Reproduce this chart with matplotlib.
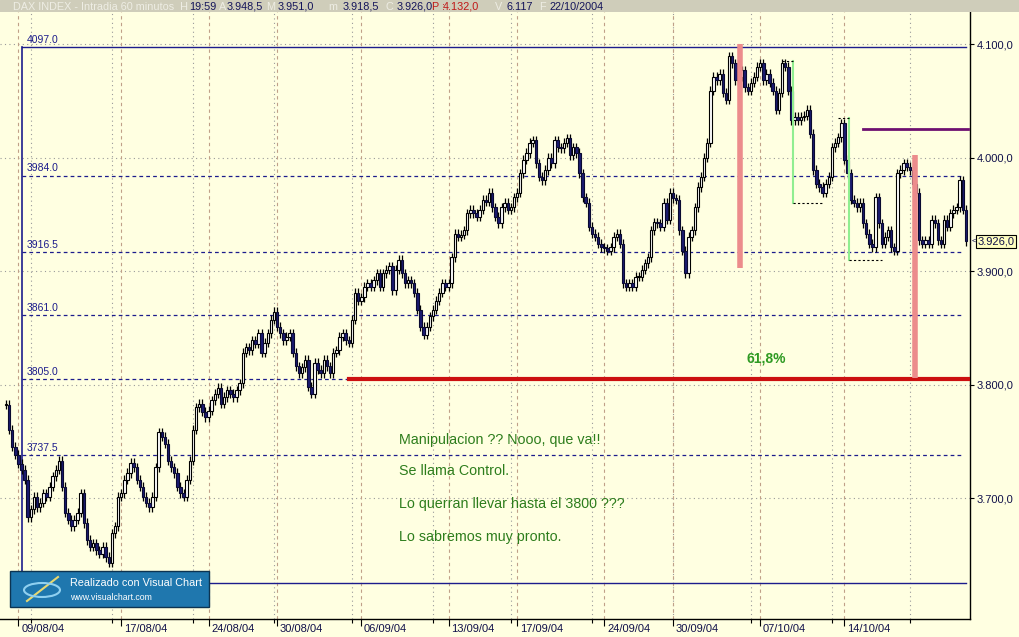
import numpy as np
import matplotlib.pyplot as plt
from matplotlib.patches import Rectangle, Ellipse
from matplotlib.lines import Line2D

plt.rcParams['font.family'] = ['Liberation Sans', 'DejaVu Sans']

# DAX hourly closes (06/08/04 .. 22/10/04)
closes = [
    3782, 3760, 3745, 3738, 3730, 3725, 3716, 3683, 3690, 3701, 3692, 3696, 3704, 3701, 3710, 3719,
    3725, 3733, 3710, 3687, 3681, 3675, 3681, 3687, 3704, 3678, 3663, 3657, 3660, 3654, 3651, 3657,
    3648, 3643, 3669, 3675, 3701, 3704, 3716, 3722, 3731, 3727, 3716, 3710, 3701, 3696, 3692, 3701,
    3727, 3758, 3754, 3748, 3733, 3727, 3722, 3710, 3704, 3701, 3716, 3733, 3760, 3780, 3783, 3776,
    3771, 3777, 3786, 3792, 3797, 3783, 3789, 3795, 3792, 3789, 3795, 3801, 3828, 3833, 3830, 3839,
    3836, 3845, 3828, 3837, 3845, 3857, 3864, 3851, 3845, 3839, 3842, 3845, 3828, 3816, 3810, 3815,
    3822, 3798, 3792, 3819, 3813, 3810, 3822, 3816, 3810, 3828, 3830, 3842, 3845, 3839, 3837, 3857,
    3881, 3874, 3877, 3886, 3889, 3886, 3892, 3898, 3886, 3898, 3901, 3904, 3883, 3901, 3910, 3898,
    3889, 3892, 3889, 3881, 3866, 3851, 3844, 3851, 3860, 3866, 3874, 3881, 3889, 3886, 3889, 3912,
    3933, 3930, 3932, 3936, 3951, 3954, 3951, 3948, 3954, 3963, 3961, 3969, 3956, 3948, 3942, 3956,
    3960, 3954, 3956, 3965, 3969, 3986, 3998, 4004, 4013, 4015, 3995, 3983, 3980, 3989, 4000, 3995,
    4015, 4009, 4008, 4013, 4017, 4002, 4009, 4004, 3986, 3965, 3960, 3939, 3933, 3930, 3924, 3921,
    3920, 3918, 3921, 3930, 3933, 3924, 3889, 3886, 3889, 3886, 3895, 3895, 3901, 3907, 3912, 3936,
    3943, 3942, 3939, 3960, 3945, 3969, 3964, 3963, 3936, 3918, 3898, 3930, 3936, 3956, 3974, 3983,
    4000, 4013, 4059, 4071, 4068, 4074, 4057, 4051, 4089, 4083, 4068, 4071, 4077, 4062, 4059, 4066,
    4071, 4080, 4083, 4068, 4074, 4066, 4059, 4042, 4057, 4083, 4080, 4059, 4033, 4036, 4033, 4036,
    4037, 4042, 4021, 3989, 3977, 3974, 3969, 3977, 3983, 4009, 4013, 4018, 4030, 3998, 3986, 3963,
    3960, 3956, 3960, 3942, 3933, 3924, 3921, 3965, 3942, 3924, 3930, 3936, 3921, 3918, 3986, 3989,
    3995, 3992, 3989, 3977, 3969, 3927, 3924, 3927, 3924, 3945, 3942, 3927, 3924, 3945, 3939, 3951,
    3954, 3956, 3980, 3954, 3926,
]

date_labels = ['09/08/04', '17/08/04', '24/08/04', '30/08/04', '06/09/04', '13/09/04',
               '17/09/04', '24/09/04', '30/09/04', '07/10/04', '14/10/04']
date_idx = [4, 37, 65, 87, 114, 142, 164, 192, 214, 242, 269]
minor_idx = [8, 34, 60, 86, 111, 137, 162, 188, 214, 239, 265, 290]

price_ticks = [3700, 3800, 3900, 4000, 4100]
fib_top = 4097.0
fib_low = 3625.0
fib_levels = [3984.0, 3916.5, 3861.0, 3805.0, 3737.5]
fib_start, fib_end = 5, 308

# marks drawn by hand on the original chart
red_level, red_start = 3805, 110
pink_bars = [(235.5, 3903, 4100), (291.6, 3806, 4002)]
purple_level, purple_span = 4025, (275, 308.5)
green_legs = [(252.5, 4085, 3960, 249, 262), (270.4, 4035, 3910, 267, 281)]

notes = ['Manipulacion ?? Nooo, que va!!', 'Se llama Control.',
         'Lo querran llevar hasta el 3800 ???', 'Lo sabremos muy pronto.']
note_prices = [3751, 3724, 3695, 3666]
last_price = 3926.0

header = [('DAX INDEX - Intradia 60 minutos  H', 13, 'light'), ('19:59', 189, 'val'),
          ('A', 219, 'light'), ('3.948,5', 227, 'val'), ('M', 266, 'light'),
          ('3.951,0', 278, 'val'), ('m', 328, 'light'), ('3.918,5', 343, 'val'),
          ('C', 386, 'light'), ('3.926,0', 397, 'val'), ('P :', 432, 'red'),
          ('4.132,0', 443, 'red'), ('V', 495, 'light'), ('6.117', 507, 'val'),
          ('F', 539, 'light'), ('22/10/2004', 550, 'val')]

BG = '#FFFFE1'
NAVY = '#1c1c8c'
W, H = 1020, 637


def euro(v):
    return f'{v:,.1f}'.replace(',', 'X').replace('.', ',').replace('X', '.')


fig = plt.figure(figsize=(W / 100, H / 100), dpi=100, facecolor=BG)
ax = fig.add_axes([0, 18 / H, 970 / W, 607 / H], facecolor=BG)
ax.set_xlim(-1.9, 309.3)
ax.set_ylim(3593.4, 4128.2)

# grid
for p in price_ticks:
    ax.axhline(p, color='#9a9a9a', lw=0.8, ls=(0, (1, 3)), zorder=1)
for i in minor_idx:
    ax.axvline(i, color='#9a9a9a', lw=0.8, ls=(0, (1, 3)), zorder=1)
for i in date_idx:
    ax.axvline(i, color='#c0a088', lw=0.8, ls=(0, (3, 3)), zorder=1)

# fibonacci frame
ax.plot([fib_start, fib_end], [fib_top, fib_top], color=NAVY, lw=1, zorder=2)
ax.plot([fib_start, fib_end], [fib_low, fib_low], color=NAVY, lw=1, zorder=2)
ax.plot([fib_start, fib_start], [fib_low, fib_top], color=NAVY, lw=1.2, zorder=2)
ax.text(6.8, fib_top + 2, f'{fib_top:.1f}', color=NAVY, fontsize=7.5, va='bottom')
for lv in fib_levels:
    ax.plot([fib_start, fib_end - 1], [lv, lv], color=NAVY, lw=0.9, ls=(0, (3, 2.5)), zorder=2)
    ax.text(6.8, lv + 2, f'{lv:.1f}', color=NAVY, fontsize=7.5, va='bottom')

# candles
c = np.array(closes, float)
o = np.r_[c[0], c[:-1]]
x = np.arange(len(c))
up = c >= o
wick = 4.0
ax.vlines(x, np.minimum(o, c) - wick, np.maximum(o, c) + wick, color='black', lw=0.9, zorder=3)
body = np.maximum(np.abs(c - o), 0.9)
base = np.minimum(o, c)
ax.bar(x[up], body[up], bottom=base[up], width=0.8, color='white', edgecolor='black', lw=0.8, zorder=4)
ax.bar(x[~up], body[~up], bottom=base[~up], width=0.8, color='#1a1a70', edgecolor='#0a0a30', lw=0.8, zorder=4)

# hand drawn marks
ax.plot([red_start, fib_end + 0.5], [red_level, red_level], color='#cc1010', lw=3, zorder=5)
for xi, y0, y1 in pink_bars:
    ax.plot([xi, xi], [y0, y1], color='#ec8c8c', lw=4, solid_capstyle='butt', zorder=6)
ax.plot(purple_span, [purple_level, purple_level], color='#6e1070', lw=2, zorder=5)
for xi, ytop, ybot, xl, xr in green_legs:
    ax.plot([xi, xi], [ytop, ybot], color='#90ee90', lw=1.5, zorder=6)
    ax.plot([xl, xi], [ytop, ytop], color='black', lw=0.8, ls=(0, (2, 2)), zorder=6)
    ax.plot([xi, xr], [ybot, ybot], color='black', lw=0.8, ls=(0, (2, 2)), zorder=6)

ax.text(237.7, 3823, '61,8%', color='#2e9a22', fontsize=10, fontweight='bold', va='center')
for txt, p in zip(notes, note_prices):
    ax.text(126, p, txt, color='#2d7d1c', fontsize=10.3, va='center')

# axes / ticks
for s in ['left', 'top']:
    ax.spines[s].set_visible(False)
for s in ['right', 'bottom']:
    ax.spines[s].set_color('black')
    ax.spines[s].set_linewidth(1)
ax.yaxis.tick_right()
ax.set_yticks(price_ticks)
ax.set_yticklabels([euro(p) for p in price_ticks], fontsize=8, color='#10104a')
ax.tick_params(axis='y', length=3, width=0.8, pad=2)
ax.set_xticks(date_idx)
ax.set_xticks(minor_idx, minor=True)
ax.set_xticklabels([])
ax.tick_params(axis='x', which='major', length=5, width=0.8)
ax.tick_params(axis='x', which='minor', length=3, width=0.8)
for i, lab in zip(date_idx, date_labels):
    ax.annotate(lab, xy=(i, 0), xycoords=ax.get_xaxis_transform(), xytext=(2, -3.5),
                textcoords='offset points', ha='left', va='top', fontsize=8, color='#10104a',
                annotation_clip=False)

# last price box
ax.annotate(euro(last_price), xy=(1, last_price), xycoords=('axes fraction', 'data'),
            xytext=(5.5, 0), textcoords='offset points', ha='left', va='center', fontsize=8,
            color='#10104a', bbox=dict(boxstyle='square,pad=0.15', fc='#ffffc0', ec='black', lw=0.8),
            annotation_clip=False)
ax.annotate('<', xy=(1, last_price), xycoords=('axes fraction', 'data'), xytext=(1, 0),
            textcoords='offset points', ha='left', va='center', fontsize=6, color='#10104a',
            annotation_clip=False)

# header bar
hax = fig.add_axes([0, 1 - 12 / H, 1, 12 / H], facecolor='#cfcdba')
hax.set_xlim(0, W)
hax.set_ylim(0, 1)
hax.axis('off')
hax.add_patch(Rectangle((0, 0), W, 1, color='#cfcdba'))
cols = {'light': '#eeede4', 'val': '#14145a', 'red': '#c01818'}
for txt, px, kind in header:
    hax.text(px, 0.45, txt, color=cols[kind], fontsize=7.8, va='center', ha='left')

# visual chart logo
fig.patches.append(Rectangle((10 / W, 30 / H), 199 / W, 36 / H, transform=fig.transFigure,
                             fc='#1f77ae', ec='#0c3452', lw=1, zorder=10))
fig.patches.append(Ellipse((42 / W, 47 / H), 36 / W, 14 / H, transform=fig.transFigure,
                           fc='none', ec='#8fd0f0', lw=1.5, zorder=11))
fig.lines.append(Line2D([27 / W, 58 / W], [36 / H, 60 / H], transform=fig.transFigure,
                        color='#e8d870', lw=1.5, zorder=11))
fig.text(70 / W, 1 - 583 / H, 'Realizado con Visual Chart', color='white', fontsize=7.8,
         va='center', zorder=12)
fig.text(70 / W, 1 - 598 / H, 'www.visualchart.com', color='white', fontsize=6.3,
         va='center', zorder=12)

plt.savefig('out.png', dpi=100, facecolor=BG)
